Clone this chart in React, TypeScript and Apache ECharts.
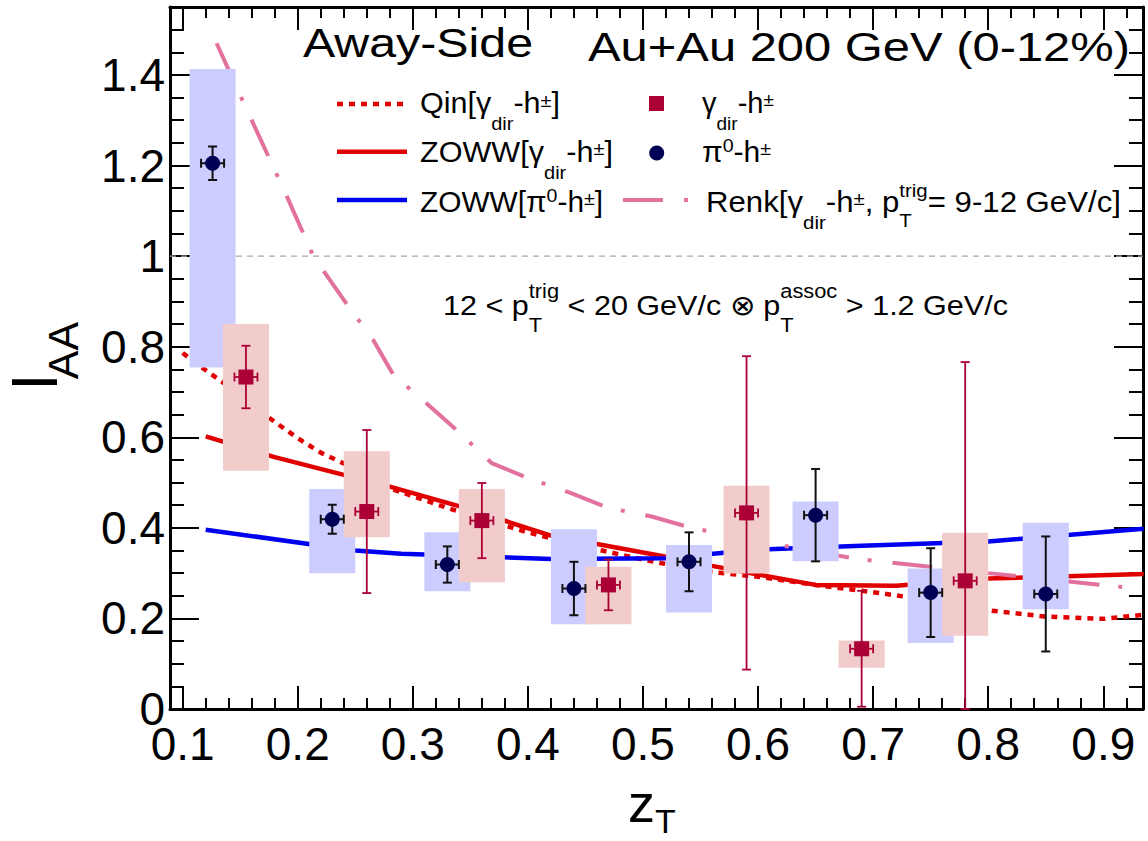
import React, { useEffect, useRef } from 'react';
import * as echarts from 'echarts';

const FONT = '"Liberation Sans", Arial, Helvetica, sans-serif';

// ---------- data ----------
// pi0-h± (dark circles)
const pi0X = [0.126, 0.23, 0.33, 0.44, 0.54, 0.65, 0.75, 0.85];
const pi0Y = [1.205, 0.419, 0.319, 0.266, 0.325, 0.428, 0.257, 0.254];
const pi0Stat = [0.037, 0.032, 0.040, 0.059, 0.065, 0.102, 0.098, 0.127];
const pi0SysHigh = [1.413, 0.486, 0.390, 0.397, 0.362, 0.458, 0.310, 0.411];
const pi0SysLow = [0.754, 0.300, 0.260, 0.187, 0.213, 0.326, 0.146, 0.220];

// gamma_dir-h± (crimson squares)
const gamX = [0.155, 0.26, 0.36, 0.47, 0.59, 0.69, 0.78];
const gamY = [0.733, 0.436, 0.416, 0.274, 0.433, 0.133, 0.283];
const gamStat = [0.069, 0.180, 0.083, 0.056, 0.346, 0.128, 0.483];
const gamSysHigh = [0.850, 0.569, 0.486, 0.314, 0.493, 0.151, 0.389];
const gamSysLow = [0.526, 0.379, 0.280, 0.187, 0.299, 0.091, 0.162];

// Qin[gamma_dir-h±] (red dotted)
const qinX = [0.10, 0.12, 0.14, 0.16, 0.18, 0.20, 0.22, 0.24, 0.26, 0.28, 0.30, 0.33, 0.36, 0.40, 0.45, 0.50, 0.55, 0.60, 0.65, 0.70, 0.75, 0.80, 0.85, 0.90, 0.935];
const qinY = [0.786, 0.748, 0.712, 0.672, 0.634, 0.598, 0.566, 0.542, 0.515, 0.487, 0.470, 0.444, 0.420, 0.390, 0.358, 0.330, 0.305, 0.292, 0.274, 0.258, 0.240, 0.218, 0.204, 0.199, 0.208];

// ZOWW[gamma_dir-h±] (red solid)
const zowwGamX = [0.12, 0.18, 0.24, 0.28, 0.34, 0.42, 0.52, 0.56, 0.60, 0.65, 0.72, 0.80, 0.935];
const zowwGamY = [0.602, 0.556, 0.517, 0.491, 0.448, 0.383, 0.336, 0.316, 0.297, 0.274, 0.272, 0.288, 0.298];

// ZOWW[pi0-h±] (blue solid)
const zowwPiX = [0.12, 0.25, 0.29, 0.35, 0.42, 0.52, 0.60, 0.69, 0.80, 0.935];
const zowwPiY = [0.396, 0.350, 0.343, 0.338, 0.331, 0.333, 0.352, 0.3605, 0.370, 0.398];

// Renk[gamma_dir-h±, pT trig = 9-12 GeV/c] (pink long-dash-dot)
const renkX = [0.1295, 0.15, 0.17, 0.19, 0.2135, 0.244, 0.2656, 0.283, 0.30, 0.315, 0.341, 0.3685, 0.40, 0.437, 0.47, 0.5076, 0.542, 0.61, 0.687, 0.76, 0.80, 0.906, 0.9255];
const renkY = [1.47, 1.355, 1.245, 1.135, 1.0, 0.889, 0.815, 0.738, 0.701, 0.668, 0.609, 0.543, 0.51, 0.477, 0.444, 0.425, 0.40, 0.366, 0.331, 0.311, 0.30, 0.272, 0.267];

// axes
const X_MIN = 0.089;
const X_MAX = 0.9345;
const Y_MIN = 0;
const Y_MAX = 1.55;
const Y_INTERVAL = 0.2;
const UNITY = 1;

// sizes / styles
const SYS_HALF_W = 0.02;
const STAT_X_ERR = 0.01;
const RED = '#e00000';
const BLUE = '#0000f0';
const PINK = '#e2719e';
const NAVY = '#000055';
const CRIMSON = '#ab0036';
const BOX_BLUE = '#ccccfe';
const BOX_PINK = '#f2cbcb';

const zip = (xs: number[], ys: number[]) => xs.map((x, i) => [x, ys[i]]);

let measureCtx: CanvasRenderingContext2D | null = null;
function textWidth(t: string, fs: number): number {
  if (!measureCtx) measureCtx = document.createElement('canvas').getContext('2d');
  measureCtx!.font = `${fs}px ${FONT}`;
  return measureCtx!.measureText(t).width;
}

type Seg = { t: string; fs: number; dy?: number; stack?: boolean };

function latex(x0: number, x1: number, baseline: number, segs: Seg[], fill = '#000'): any[] {
  let W = 0;
  let pend = 0;
  const offs: number[] = [];
  segs.forEach((s) => {
    const w = textWidth(s.t, s.fs);
    offs.push(W);
    if (s.stack) {
      pend = w;
    } else {
      W += Math.max(w, pend);
      pend = 0;
    }
  });
  const sx = (x1 - x0) / W;
  return segs.map((s, i) => ({
    type: 'text',
    x: x0 + offs[i] * sx,
    y: baseline + (s.dy || 0) - 0.3465 * s.fs,
    scaleX: sx,
    z: 100,
    style: {
      text: s.t,
      fontSize: s.fs,
      fontFamily: FONT,
      fill,
      align: 'left',
      verticalAlign: 'middle',
      textAlign: 'left',
      textVerticalAlign: 'middle',
    },
  }));
}

function boxRender(fill: string) {
  return (params: any, api: any) => {
    const x = api.value(0);
    const lo = api.value(1);
    const hi = api.value(2);
    const p1 = api.coord([x - SYS_HALF_W, hi]);
    const p2 = api.coord([x + SYS_HALF_W, lo]);
    return {
      type: 'rect',
      shape: { x: p1[0], y: p1[1], width: p2[0] - p1[0], height: p2[1] - p1[1] },
      style: { fill },
    };
  };
}

function errRender(color: string, lw: number, cap: number) {
  return (params: any, api: any) => {
    const x = api.value(0);
    const y = api.value(1);
    const ey = api.value(2);
    const top = api.coord([x, Math.min(Y_MAX, y + ey)]);
    const bot = api.coord([x, Math.max(Y_MIN, y - ey)]);
    const left = api.coord([x - STAT_X_ERR, y]);
    const right = api.coord([x + STAT_X_ERR, y]);
    const h = cap / 2;
    const style = { stroke: color, lineWidth: lw };
    return {
      type: 'group',
      children: [
        { type: 'line', shape: { x1: top[0], y1: top[1], x2: bot[0], y2: bot[1] }, style },
        { type: 'line', shape: { x1: top[0] - h, y1: top[1], x2: top[0] + h, y2: top[1] }, style },
        { type: 'line', shape: { x1: bot[0] - h, y1: bot[1], x2: bot[0] + h, y2: bot[1] }, style },
        { type: 'line', shape: { x1: left[0], y1: left[1], x2: right[0], y2: right[1] }, style },
        { type: 'line', shape: { x1: left[0], y1: left[1] - h, x2: left[0], y2: left[1] + h }, style },
        { type: 'line', shape: { x1: right[0], y1: right[1] - h, x2: right[0], y2: right[1] + h }, style },
      ],
    };
  };
}

function xAxisCfg(position: 'top' | 'bottom', labels: boolean) {
  return {
    type: 'value',
    position,
    min: X_MIN,
    max: X_MAX,
    splitNumber: 8,
    axisLine: { show: true, onZero: false, lineStyle: { color: '#000', width: 3 } },
    axisTick: { show: true, inside: true, length: 23, lineStyle: { color: '#000', width: 2 } },
    minorTick: { show: true, splitNumber: 5, length: 11, lineStyle: { color: '#000', width: 2 } },
    splitLine: { show: false },
    axisLabel: {
      show: labels,
      fontSize: 46,
      lineHeight: 34,
      fontFamily: FONT,
      color: '#000',
      margin: 18,
      showMinLabel: false,
      showMaxLabel: false,
    },
  };
}

function yAxisCfg(position: 'left' | 'right', labels: boolean) {
  return {
    type: 'value',
    position,
    min: Y_MIN,
    max: Y_MAX,
    interval: Y_INTERVAL,
    axisLine: { show: true, onZero: false, lineStyle: { color: '#000', width: 3 } },
    axisTick: { show: true, inside: true, length: 29, lineStyle: { color: '#000', width: 2 } },
    minorTick: { show: true, splitNumber: 4, length: 14, lineStyle: { color: '#000', width: 2 } },
    splitLine: { show: false },
    axisLabel: {
      show: labels,
      fontSize: 46,
      lineHeight: 34,
      fontFamily: FONT,
      color: '#000',
      margin: 5,
      showMinLabel: true,
      showMaxLabel: false,
    },
  };
}

function buildGraphics(): any[] {
  const els: any[] = [];
  const F = 29;
  const S = 19;
  const PM = -7;
  // titles
  els.push(...latex(303, 533, 56.7, [{ t: 'Away-Side', fs: 40 }]));
  els.push(...latex(588, 1130, 61, [{ t: 'Au+Au 200 GeV (0-12%)', fs: 40 }]));
  // legend column 1
  els.push(...latex(420, 560, 113.3, [
    { t: 'Qin[', fs: F }, { t: 'γ', fs: F }, { t: 'dir', fs: S, dy: 16.7 },
    { t: '-h', fs: F }, { t: '±', fs: S, dy: PM }, { t: ']', fs: F },
  ]));
  els.push(...latex(420, 613, 161.7, [
    { t: 'ZOWW[', fs: F }, { t: 'γ', fs: F }, { t: 'dir', fs: S, dy: 16.7 },
    { t: '-h', fs: F }, { t: '±', fs: S, dy: PM }, { t: ']', fs: F },
  ]));
  els.push(...latex(420, 603, 211.7, [
    { t: 'ZOWW[π', fs: F }, { t: '0', fs: S, dy: -10 },
    { t: '-h', fs: F }, { t: '±', fs: S, dy: PM }, { t: ']', fs: F },
  ]));
  // legend column 2
  els.push(...latex(702, 774, 113.3, [
    { t: 'γ', fs: F }, { t: 'dir', fs: S, dy: 16.7 }, { t: '-h', fs: F }, { t: '±', fs: S, dy: PM },
  ]));
  els.push(...latex(702, 771, 161.7, [
    { t: 'π', fs: F }, { t: '0', fs: S, dy: -10 }, { t: '-h', fs: F }, { t: '±', fs: S, dy: PM },
  ]));
  els.push(...latex(706, 1121, 211.7, [
    { t: 'Renk[', fs: F }, { t: 'γ', fs: F }, { t: 'dir', fs: S, dy: 16.7 }, { t: '-h', fs: F },
    { t: '±', fs: S, dy: PM }, { t: ', p', fs: F }, { t: 'T', fs: S, dy: 15, stack: true },
    { t: 'trig', fs: S, dy: -15 }, { t: '= 9-12 GeV/c]', fs: F },
  ]));
  // annotation
  els.push(...latex(443, 1008, 315, [
    { t: '12 < p', fs: 28 }, { t: 'T', fs: 20, dy: 16.7, stack: true }, { t: 'trig', fs: 20, dy: -17 },
    { t: ' < 20 GeV/c ⊗ p', fs: 28 }, { t: 'T', fs: 20, dy: 16.7, stack: true }, { t: 'assoc', fs: 20, dy: -17 },
    { t: ' > 1.2 GeV/c', fs: 28 },
  ]));
  // legend samples
  els.push({ type: 'line', z: 100, shape: { x1: 337, y1: 104, x2: 407, y2: 104 }, style: { stroke: RED, lineWidth: 4.5, lineDash: [6, 6] } });
  els.push({ type: 'line', z: 100, shape: { x1: 337, y1: 151.7, x2: 407, y2: 151.7 }, style: { stroke: RED, lineWidth: 4.5 } });
  els.push({ type: 'line', z: 100, shape: { x1: 337, y1: 200, x2: 407, y2: 200 }, style: { stroke: BLUE, lineWidth: 4.5 } });
  els.push({ type: 'rect', z: 100, shape: { x: 649, y: 96, width: 15, height: 15 }, style: { fill: CRIMSON } });
  els.push({ type: 'circle', z: 100, shape: { cx: 656.7, cy: 153, r: 7.5 }, style: { fill: NAVY } });
  els.push({ type: 'line', z: 100, shape: { x1: 623, y1: 200, x2: 663, y2: 200 }, style: { stroke: PINK, lineWidth: 4 } });
  els.push({ type: 'line', z: 100, shape: { x1: 684, y1: 200, x2: 688, y2: 200 }, style: { stroke: PINK, lineWidth: 4 } });
  // axis titles
  const tstyle = (text: string, fs: number) => ({
    text, fontSize: fs, fontFamily: FONT, fill: '#000',
    align: 'left', verticalAlign: 'middle', textAlign: 'left', textVerticalAlign: 'middle',
  });
  els.push({ type: 'text', z: 100, x: 628, y: 822 - 0.3465 * 54, style: tstyle('z', 54) });
  els.push({ type: 'text', z: 100, x: 655, y: 833 - 0.3465 * 34, style: tstyle('T', 34) });
  els.push({
    type: 'text', z: 100, x: 34.8, y: 382, rotation: Math.PI / 2,
    style: { ...tstyle('I', 64), align: 'center', textAlign: 'center' },
  });
  els.push({
    type: 'text', z: 100, x: 63.4, y: 350.5, rotation: Math.PI / 2,
    style: { ...tstyle('AA', 43), align: 'center', textAlign: 'center' },
  });
  return els;
}

export default function App() {
  const ref = useRef<HTMLDivElement>(null);
  useEffect(() => {
    if (!ref.current) return;
    const chart = echarts.init(ref.current, undefined, { renderer: 'svg' });
    const option: any = {
      animation: false,
      backgroundColor: '#ffffff',
      grid: { left: 170, top: 7, width: 973, height: 702, outerBoundsMode: 'none' },
      xAxis: [xAxisCfg('bottom', true), xAxisCfg('top', false)],
      yAxis: [yAxisCfg('left', true), yAxisCfg('right', false)],
      series: [
        {
          name: 'unity', type: 'line', xAxisIndex: 0, yAxisIndex: 0, z: 1, silent: true,
          symbol: 'none', data: [[X_MIN, UNITY], [X_MAX, UNITY]],
          lineStyle: { color: '#aaaaaa', width: 1.3, type: [6, 5] },
        },
        {
          name: 'Qin[γdir-h±]', type: 'line', z: 2, symbol: 'none', data: zip(qinX, qinY),
          lineStyle: { color: RED, width: 4.5, type: [6, 6] },
        },
        {
          name: 'ZOWW[γdir-h±]', type: 'line', z: 2, symbol: 'none', data: zip(zowwGamX, zowwGamY),
          lineStyle: { color: RED, width: 4.5 },
        },
        {
          name: 'ZOWW[π0-h±]', type: 'line', z: 2, symbol: 'none', data: zip(zowwPiX, zowwPiY),
          lineStyle: { color: BLUE, width: 4.5 },
        },
        {
          name: 'Renk', type: 'line', z: 2, symbol: 'none', data: zip(renkX, renkY),
          lineStyle: { color: PINK, width: 4, type: [40, 19, 4, 21] },
        },
        {
          name: 'π0 sys', type: 'custom', z: 3, renderItem: boxRender(BOX_BLUE),
          data: pi0X.map((x, i) => [x, pi0SysLow[i], pi0SysHigh[i]]),
        },
        {
          name: 'γ sys', type: 'custom', z: 3, renderItem: boxRender(BOX_PINK),
          data: gamX.map((x, i) => [x, gamSysLow[i], gamSysHigh[i]]),
        },
        {
          name: 'π0 stat', type: 'custom', z: 4, renderItem: errRender('#111111', 2, 9),
          data: pi0X.map((x, i) => [x, pi0Y[i], pi0Stat[i]]),
        },
        {
          name: 'γ stat', type: 'custom', z: 4, renderItem: errRender(CRIMSON, 1.8, 9),
          data: gamX.map((x, i) => [x, gamY[i], gamStat[i]]),
        },
        {
          name: 'π0-h±', type: 'scatter', z: 5, symbol: 'circle', symbolSize: 15,
          itemStyle: { color: NAVY, opacity: 1 }, data: zip(pi0X, pi0Y),
        },
        {
          name: 'γdir-h±', type: 'scatter', z: 5, symbol: 'rect', symbolSize: 15,
          itemStyle: { color: CRIMSON, opacity: 1 }, data: zip(gamX, gamY),
        },
      ],
      graphic: { elements: buildGraphics() },
    };
    chart.setOption(option);
    return () => chart.dispose();
  }, []);
  return (
    <div
      ref={ref}
      style={{ position: 'absolute', left: 0, top: 0, width: 1148, height: 841, background: '#fff' }}
    />
  );
}
